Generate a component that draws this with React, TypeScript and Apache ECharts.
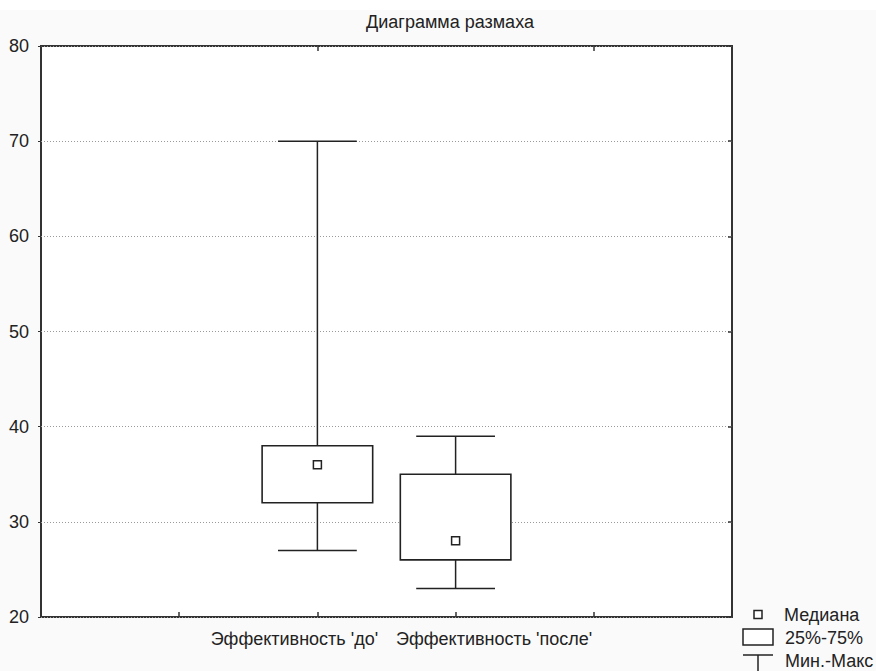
import React, { useEffect, useRef } from "react";
import * as echarts from "echarts";

const titleText = "Диаграмма размаха";
const categories = ["", "", "Эффективность 'до'", "Эффективность 'после'", "", ""];
// [categoryIndex, min, q1, median, q3, max]
const boxData = [
  [2, 27, 32, 36, 38, 70],
  [3, 23, 26, 28, 35, 39],
];
const legendLabels = ["Медиана", "25%-75%", "Мин.-Макс"];
const yMin = 20;
const yMax = 80;
const yStep = 10;

const FONT = "'Liberation Sans', Arial, sans-serif";
const INK = "#222";

export default function App() {
  const ref = useRef<HTMLDivElement>(null);
  useEffect(() => {
    if (!ref.current) return;
    const chart = echarts.init(ref.current, undefined, { renderer: "svg" });
    const renderItem = (params: any, api: any) => {
      const x = api.value(0);
      const mn = api.coord([x, api.value(1)]);
      const q1 = api.coord([x, api.value(2)]);
      const md = api.coord([x, api.value(3)]);
      const q3 = api.coord([x, api.value(4)]);
      const mx = api.coord([x, api.value(5)]);
      const band = api.size([1, 0])[0];
      const bw = band * 0.8;
      const cw = band * 0.57;
      const cx = mn[0];
      const lineStyle = { stroke: INK, lineWidth: 1.5, fill: null };
      return {
        type: "group",
        children: [
          { type: "line", shape: { x1: cx, y1: mx[1], x2: cx, y2: q3[1] }, style: lineStyle },
          { type: "line", shape: { x1: cx, y1: q1[1], x2: cx, y2: mn[1] }, style: lineStyle },
          { type: "line", shape: { x1: cx - cw / 2, y1: mx[1], x2: cx + cw / 2, y2: mx[1] }, style: lineStyle },
          { type: "line", shape: { x1: cx - cw / 2, y1: mn[1], x2: cx + cw / 2, y2: mn[1] }, style: lineStyle },
          {
            type: "rect",
            shape: { x: cx - bw / 2, y: q3[1], width: bw, height: q1[1] - q3[1] },
            style: { stroke: INK, lineWidth: 1.6, fill: "#fff" },
          },
          {
            type: "rect",
            shape: { x: cx - 4, y: md[1] - 4, width: 8, height: 8 },
            style: { stroke: INK, lineWidth: 1.5, fill: "#fff" },
          },
        ],
      };
    };
    const txt = { fontFamily: FONT, fontSize: 18, color: INK };
    chart.setOption({
      animation: false,
      backgroundColor: "#fafafa",
      textStyle: { fontFamily: FONT },
      grid: {
        left: 41,
        right: 144,
        top: 46,
        bottom: 54,
        show: true,
        backgroundColor: "#fff",
        borderColor: "#333",
        borderWidth: 2,
      },
      xAxis: [
        {
          type: "category",
          data: categories,
          boundaryGap: false,
          position: "bottom",
          axisLine: { show: false },
          axisTick: { show: true, inside: true, length: 5, lineStyle: { color: "#333", width: 1.5 } },
          axisLabel: {
            interval: 0,
            margin: 13,
            ...txt,
            formatter: (v: string, i: number) => (v ? (i === 2 ? `{a|${v}}` : `{b|${v}}`) : ""),
            rich: {
              a: { ...txt, padding: [0, 46, 0, 0] },
              b: { ...txt, padding: [0, 0, 0, 77] },
            },
          },
          splitLine: { show: false },
        },
        {
          type: "category",
          data: categories,
          boundaryGap: false,
          position: "top",
          axisLine: { show: false },
          axisTick: { show: true, inside: true, length: 5, lineStyle: { color: "#333", width: 1.5 } },
          axisLabel: { show: false },
          splitLine: { show: false },
        },
      ],
      yAxis: [
        {
          type: "value",
          min: yMin,
          max: yMax,
          interval: yStep,
          position: "left",
          axisLine: { show: false },
          axisTick: { show: true, inside: false, length: 3, lineStyle: { color: "#333" } },
          axisLabel: { ...txt, margin: 12 },
          splitLine: { show: true, lineStyle: { color: "#9a9a9a", type: [1, 2], width: 1 } },
        },
        {
          type: "value",
          min: yMin,
          max: yMax,
          interval: yStep,
          position: "right",
          axisLine: { show: false },
          axisTick: { show: true, inside: true, length: 4, lineStyle: { color: "#333", width: 1.5 } },
          axisLabel: { show: false },
          splitLine: { show: false },
        },
      ],
      series: [
        {
          type: "custom",
          renderItem,
          data: boxData,
          encode: { x: 0, y: [1, 2, 3, 4, 5] },
          xAxisIndex: 0,
          yAxisIndex: 0,
          clip: false,
        },
      ],
      graphic: [
        { type: "rect", left: 0, top: 0, shape: { x: 0, y: 0, width: 876, height: 10 }, style: { fill: "#fff" }, z: -1 },
        {
          type: "text",
          x: 450,
          y: 22,
          style: { text: titleText, fontFamily: FONT, fontSize: 18, fill: INK, textAlign: "center", textVerticalAlign: "middle" },
        },
        { type: "rect", shape: { x: 754, y: 610.5, width: 8, height: 8 }, style: { stroke: INK, lineWidth: 1.5, fill: "#fff" } },
        { type: "rect", shape: { x: 743, y: 629, width: 30, height: 16 }, style: { stroke: INK, lineWidth: 1.5, fill: "#fff" } },
        { type: "line", shape: { x1: 743, y1: 655, x2: 773, y2: 655 }, style: { stroke: INK, lineWidth: 1.5 } },
        { type: "line", shape: { x1: 758, y1: 655, x2: 758, y2: 671 }, style: { stroke: INK, lineWidth: 1.5 } },
        {
          type: "text",
          x: 784,
          y: 615,
          style: { text: legendLabels[0], fontFamily: FONT, fontSize: 18, fill: INK, textVerticalAlign: "middle" },
        },
        {
          type: "text",
          x: 785,
          y: 638,
          style: { text: legendLabels[1], fontFamily: FONT, fontSize: 18, fill: INK, textVerticalAlign: "middle" },
        },
        {
          type: "text",
          x: 785,
          y: 661,
          style: { text: legendLabels[2], fontFamily: FONT, fontSize: 18, fill: INK, textVerticalAlign: "middle" },
        },
      ],
    });
    return () => chart.dispose();
  }, []);
  return (
    <div
      ref={ref}
      style={{ position: "absolute", left: 0, top: 0, width: 876, height: 671 }}
    />
  );
}
